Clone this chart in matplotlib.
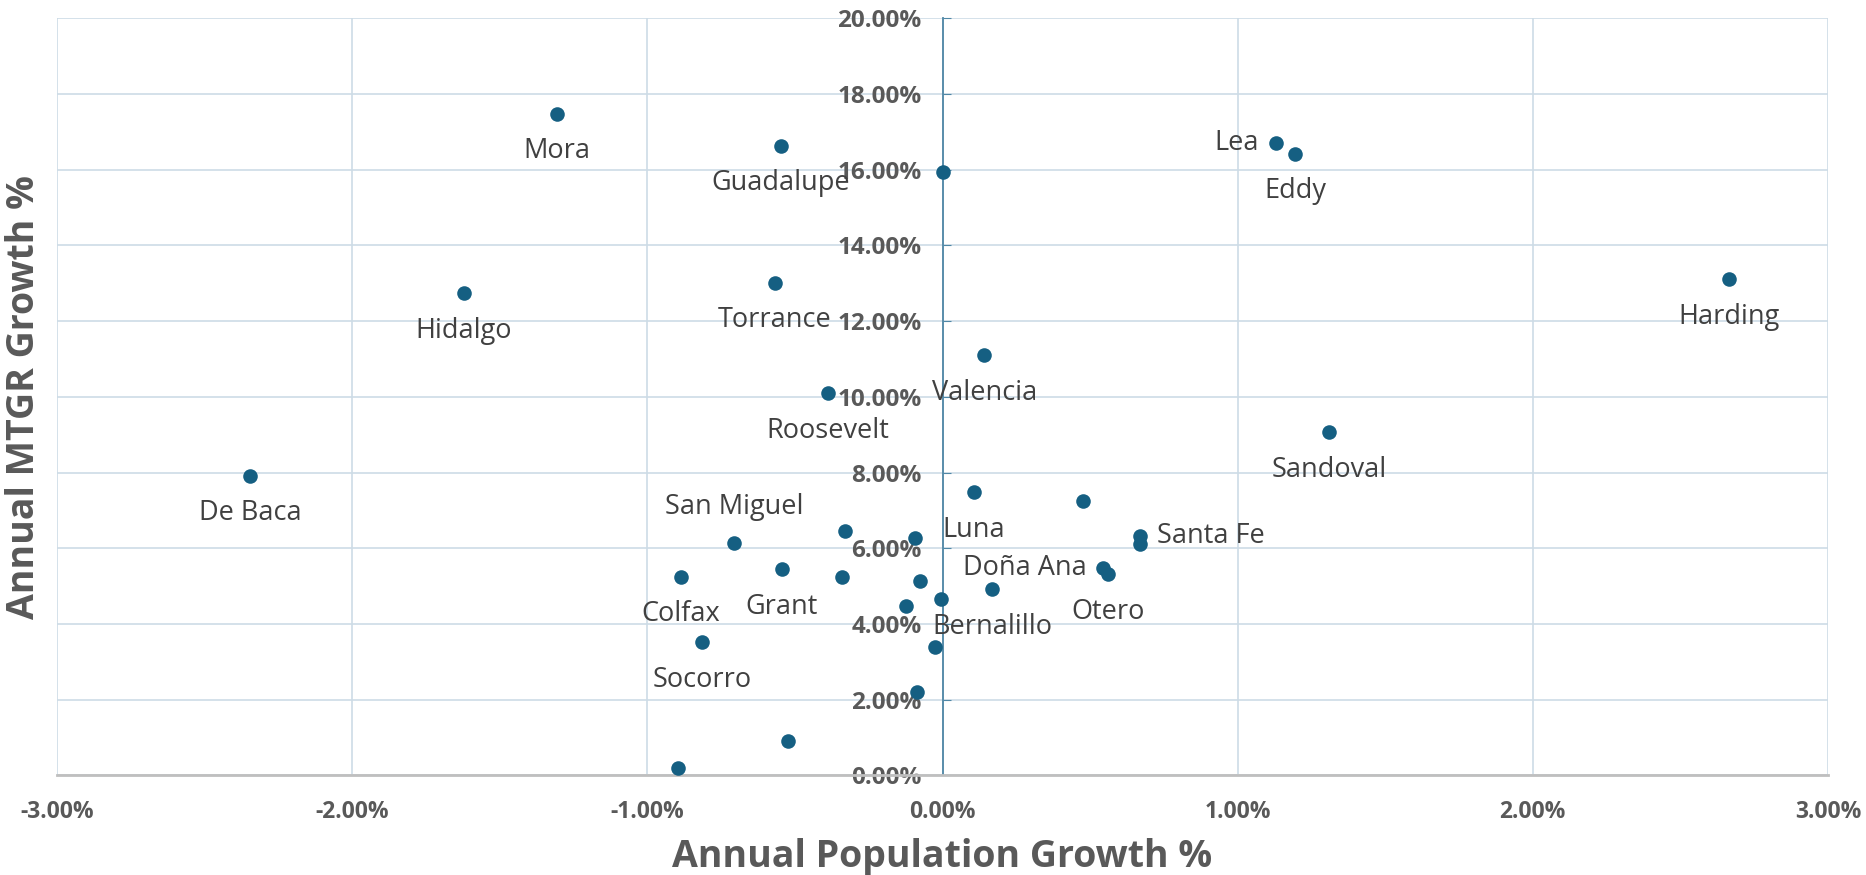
import matplotlib.pyplot as plt
from matplotlib.ticker import FuncFormatter

plt.rcParams['font.family'] = ['Open Sans', 'DejaVu Sans']

# annual population growth % (x) and annual MTGR growth % (y)
pop_growth = [-1.306, -0.548, 0.000, 1.129, 1.194, -1.621, -0.569, 2.665,
              0.141, -0.387, 1.310, -2.347, 0.105, 0.476, -0.706, -0.331,
              -0.093, 0.669, 0.669, 0.544, 0.560, -0.887, -0.544, -0.339,
              -0.077, 0.169, -0.004, -0.125, -0.815, -0.024, -0.085, -0.524,
              -0.895]
mtgr_growth = [17.48, 16.63, 15.94, 16.70, 16.42, 12.74, 13.02, 13.11,
               11.10, 10.09, 9.06, 7.92, 7.48, 7.26, 6.13, 6.45,
               6.26, 6.32, 6.10, 5.47, 5.31, 5.25, 5.44, 5.25,
               5.13, 4.91, 4.65, 4.47, 3.52, 3.40, 2.20, 0.91,
               0.19]
# label text and where it sits relative to its point ('' = no label)
county = ['Mora', 'Guadalupe', '', 'Lea', 'Eddy', 'Hidalgo', 'Torrance', 'Harding',
          'Valencia', 'Roosevelt', 'Sandoval', 'De Baca', 'Luna', '', 'San Miguel', '',
          '', 'Santa Fe', '', 'Doña Ana', 'Otero', 'Colfax', 'Grant', '',
          '', 'Bernalillo', '', '', 'Socorro', '', '', '',
          '']
label_side = ['below', 'below', '', 'left', 'below', 'below', 'below', 'below',
              'below', 'below', 'below', 'below', 'below', '', 'above', '',
              '', 'right', '', 'left', 'below', 'below', 'below', '',
              '', 'below', '', '', 'below', '', '', '',
              '']

x_ticks = [-3, -2, -1, 0, 1, 2, 3]
y_ticks = [0, 2, 4, 6, 8, 10, 12, 14, 16, 18, 20]

dot_color = '#155f82'
grid_color = '#cddce6'
text_gray = '#595959'

fig = plt.figure(figsize=(18.66, 8.75), dpi=100)
ax = fig.add_axes([0.0306, 0.114, 0.949, 0.865])

ax.scatter(pop_growth, mtgr_growth, s=110, color=dot_color, zorder=3, linewidths=0)

offsets = {'below': ((0, -27), 'center', 'center'),
           'above': ((0, 26), 'center', 'center'),
           'left': ((-12, 0), 'right', 'center'),
           'right': ((12, 0), 'left', 'center')}
for x, y, name, side in zip(pop_growth, mtgr_growth, county, label_side):
    if not name:
        continue
    off, ha, va = offsets[side]
    ax.annotate(name, (x, y), xytext=off, textcoords='offset points',
                ha=ha, va=va, fontsize=19.5, color='#404040', zorder=4)

ax.set_xlim(-3, 3)
ax.set_ylim(0, 20)
ax.set_xticks(x_ticks)
ax.set_yticks(y_ticks)
pct = FuncFormatter(lambda v, _: f'{v:.2f}%')
ax.xaxis.set_major_formatter(pct)
ax.yaxis.set_major_formatter(pct)

ax.grid(True, color=grid_color, linewidth=1.2, zorder=0)
ax.set_axisbelow(True)

for s in ['top', 'right']:
    ax.spines[s].set_visible(False)
ax.spines['left'].set_position(('data', 0))
ax.spines['left'].set_color('#4f87a6')
ax.spines['left'].set_linewidth(1.3)
ax.spines['bottom'].set_color('#bfbfbf')
ax.spines['bottom'].set_linewidth(2)

ax.tick_params(axis='y', direction='in', length=6, color='#4f87a6', pad=15,
               labelsize=17.5, labelcolor=text_gray)
ax.tick_params(axis='x', length=0, pad=18, labelsize=16.5, labelcolor=text_gray)
for lab in ax.get_xticklabels() + ax.get_yticklabels():
    lab.set_fontweight('bold')

ax.set_xlabel('Annual Population Growth %', fontsize=27, fontweight='bold',
              color=text_gray, labelpad=10)
ax.set_ylabel('Annual MTGR Growth %', fontsize=27, fontweight='bold',
              color=text_gray)
ax.yaxis.set_label_coords(-0.008, 0.5)

fig.savefig('out.png', dpi=100)
